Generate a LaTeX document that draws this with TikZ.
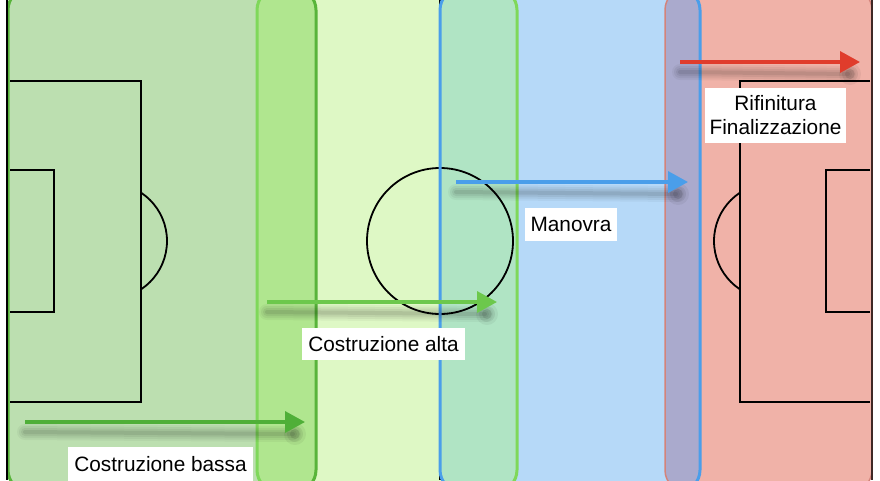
\documentclass[tikz,border=0pt]{standalone}
\usepackage{fontspec}
\setmainfont{Liberation Sans}
\usetikzlibrary{arrows.meta}
\definecolor{zA}{HTML}{BCDFB0}
\definecolor{zAB}{HTML}{B0E68F}
\definecolor{zB}{HTML}{DEF8C5}
\definecolor{zBC}{HTML}{B0E4C4}
\definecolor{zC}{HTML}{B6D9F8}
\definecolor{zCD}{HTML}{AAAACD}
\definecolor{zD}{HTML}{F0B2A8}
\definecolor{bA}{HTML}{58B43A}
\definecolor{bB}{HTML}{7FD85A}
\definecolor{bC}{HTML}{4A9EEA}
\definecolor{bD}{HTML}{D4837A}
\definecolor{arR}{HTML}{E03C2C}
\definecolor{arB}{HTML}{4A9EEA}
\definecolor{arG}{HTML}{6CC84C}
\definecolor{arGd}{HTML}{4FAF38}
\newcommand\ArrShadow[2]{%
  \foreach \w/\o in {16/0.04,12/0.05,8/0.06,4/0.08}
    \draw[line width=\w pt, black, opacity=\o, line cap=round]
      ([yshift=-10pt]#1) -- ([xshift=-12pt,yshift=-12pt]#2);
  \foreach \r/\o in {11/0.05,8/0.07,5/0.09}
    \fill[black, opacity=\o] ([xshift=-10pt,yshift=-12pt]#2) circle[radius=\r];
}
\begin{document}
\begin{tikzpicture}[x=1pt,y=-1pt,
  pitch/.style={black, line width=1.8pt},
  zonefill/.style={rounded corners=22pt},
  zoneborder/.style={line width=3pt, rounded corners=22pt},
  arr/.style={line width=3.5pt, -{Triangle[length=20pt,width=21pt]}},
  lbl/.style={fill=white, inner sep=0pt, font=\fontsize{20.8}{24}\selectfont, align=center}]
\useasboundingbox (0,0) rectangle (880,480);
\clip (0,0) rectangle (880,480);
\fill[white] (0,0) rectangle (880,480);
% zone fills
\fill[zonefill, zA] (8,-12) rectangle (316,492);
\fill[zonefill, zB] (257,-12) rectangle (517,492);
\fill[zonefill, zC] (440,-12) rectangle (700,492);
\fill[zonefill, zD] (665,-12) rectangle (872,492);
% overlaps
\begin{scope}
  \clip[rounded corners=22pt] (8,-12) rectangle (316,492);
  \fill[zonefill, zAB] (257,-12) rectangle (517,492);
\end{scope}
\begin{scope}
  \clip[rounded corners=22pt] (257,-12) rectangle (517,492);
  \fill[zonefill, zBC] (440,-12) rectangle (700,492);
\end{scope}
\begin{scope}
  \clip[rounded corners=22pt] (440,-12) rectangle (700,492);
  \fill[zonefill, zCD] (665,-12) rectangle (872,492);
\end{scope}
% pitch markings
\draw[pitch] (10,81) -| (141,402) -- (10,402);
\draw[pitch] (10,170) -| (54,312) -- (10,312);
\begin{scope}
  \clip (142,0) rectangle (200,480);
  \draw[pitch] (109,241) circle[radius=58];
\end{scope}
\draw[pitch] (440,0) -- (440,480);
\draw[pitch] (440,241) circle[radius=73];
\draw[pitch] (870,81) -| (740,402) -- (870,402);
\draw[pitch] (870,170) -| (826,312) -- (870,312);
\begin{scope}
  \clip (680,0) rectangle (739,480);
  \draw[pitch] (772,241) circle[radius=58];
\end{scope}
% zone borders
\draw[zoneborder, bA] (8,-12) rectangle (316,492);
\draw[zoneborder, bB] (257,-12) rectangle (517,492);
\draw[zoneborder, bD, line width=1.5pt] (665,-12) rectangle (872,492);
\draw[zoneborder, bC] (440,-12) rectangle (700,492);
\draw[black, line width=1.4pt] (7,0) -- (7,480);
\draw[black!70!bD, line width=1.4pt] (872,0) -- (872,480);
% arrows
\coordinate (g0) at (25,422);  \coordinate (g1) at (305,422);
\coordinate (h0) at (267,302); \coordinate (h1) at (497,302);
\coordinate (b0) at (456,182); \coordinate (b1) at (688,182);
\coordinate (r0) at (680,62);  \coordinate (r1) at (860,62);
\ArrShadow{g0}{g1}
\ArrShadow{h0}{h1}
\ArrShadow{b0}{b1}
\ArrShadow{r0}{r1}
\draw[arr, arGd] (g0) -- (g1);
\draw[arr, arG] (h0) -- (h1);
\draw[arr, arB] (b0) -- (b1);
\draw[arr, arR] (r0) -- (r1);
% labels
\node[lbl, minimum width=185pt, minimum height=36pt] (cb) at (160.5,464.5) {Costruzione bassa};
\node[lbl, minimum width=163pt, minimum height=32pt] (ca) at (383.5,344) {Costruzione alta};
\node[lbl, minimum width=92pt, minimum height=33pt] (mn) at (571,224.5) {Manovra};
\node[lbl, minimum width=141pt, minimum height=55pt] (rf) at (775.5,115.5) {Rifinitura\\Finalizzazione};
\end{tikzpicture}
\end{document}
